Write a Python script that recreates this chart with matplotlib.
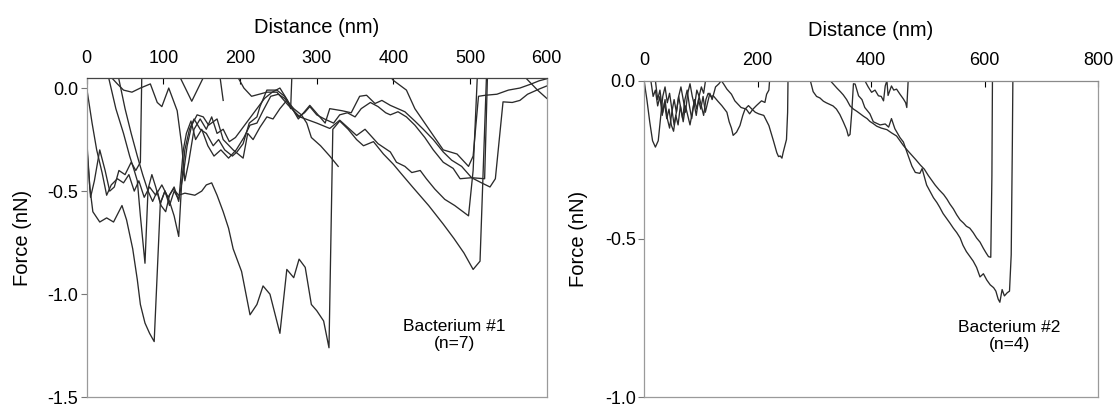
import matplotlib
matplotlib.use("Agg")
import matplotlib.pyplot as plt
import numpy as np

plt.rcParams['font.family'] = ['Liberation Sans', 'DejaVu Sans']
plt.rcParams['axes.unicode_minus'] = False

# ---- Bacterium #1 : seven retraction curves (distance nm, force nN)
b1_c1_x = [0, 4, 8, 17, 26, 35, 46, 52, 60, 66, 70, 76, 82, 88, 96, 102, 108, 114, 120, 126,
           131, 137, 144, 152, 159, 170, 178, 191, 204, 210, 217, 226, 235, 243, 252, 261,
           270, 280, 287, 293, 305, 317, 328]
b1_c1_y = [-0.25, -0.48, -0.60, -0.65, -0.63, -0.65, -0.57, -0.64, -0.78, -0.93, -1.05, -1.14,
           -1.19, -1.23, -0.56, -0.50, -0.57, -0.50, -0.54, -0.42, -0.28, -0.18, -0.13, -0.14,
           -0.18, -0.15, -0.25, -0.30, -0.34, -0.22, -0.25, -0.19, -0.14, -0.15, -0.10, -0.06,
           -0.10, -0.13, -0.17, -0.24, -0.28, -0.33, -0.38]

b1_c2_x = [28, 38, 48, 56, 62, 66, 70, 76, 80, 85, 90, 96, 102, 108, 114, 120, 124, 128, 134,
           140, 148, 156, 165, 172, 180, 190, 196, 204, 212, 222, 226, 235, 248, 258, 265, 276,
           291, 311, 317, 333, 345, 356, 365, 376, 385, 396, 415, 428, 439, 452, 465, 476, 489,
           502, 519, 523]
b1_c2_y = [0.06, -0.10, -0.22, -0.33, -0.40, -0.45, -0.62, -0.85, -0.49, -0.42, -0.48, -0.56,
           -0.50, -0.55, -0.62, -0.72, -0.45, -0.30, -0.20, -0.15, -0.20, -0.22, -0.28, -0.25,
           -0.30, -0.33, -0.31, -0.27, -0.17, -0.14, -0.09, -0.01, -0.01, -0.04, -0.08, -0.15,
           -0.084, -0.17, -0.10, -0.11, -0.12, -0.04, -0.035, -0.075, -0.06, -0.084, -0.115,
           -0.16, -0.20, -0.25, -0.31, -0.35, -0.38, -0.435, -0.44, 0.10]

b1_c3_x = [0, 7, 13, 20, 26, 32, 40, 48, 55, 62, 68, 75, 82, 90, 98, 106, 113, 120, 128, 141,
           150, 156, 163, 170, 178, 185, 191, 202, 213, 222, 230, 239, 252, 261, 270, 277, 285,
           293, 300, 309, 316, 321, 330, 341, 352, 361, 374, 387, 400, 409, 425, 446, 465, 479,
           492, 504, 513, 522, 555, 575, 588, 600]
b1_c3_y = [0.0, -0.17, -0.30, -0.41, -0.52, -0.47, -0.44, -0.46, -0.42, -0.50, -0.45, -0.53,
           -0.48, -0.52, -0.47, -0.53, -0.49, -0.52, -0.51, -0.52, -0.50, -0.47, -0.46, -0.52,
           -0.60, -0.68, -0.78, -0.89, -1.10, -1.05, -0.96, -1.00, -1.19, -0.88, -0.92, -0.83,
           -0.87, -1.05, -1.08, -1.13, -1.26, -0.20, -0.16, -0.20, -0.25, -0.28, -0.26, -0.32,
           -0.37, -0.41, -0.48, -0.57, -0.66, -0.73, -0.80, -0.88, -0.84, 0.12, 0.12, 0.04,
           -0.01, -0.05]

b1_c4_x = [30, 40, 48, 59, 70, 83, 92, 98, 107, 118, 124, 128, 133, 140, 148, 156, 163, 170,
           178, 186, 194, 202, 212, 222, 232, 242, 252, 262, 266, 268, 390, 395, 400, 417, 428,
           452, 465, 483, 498, 504, 511, 520, 535, 550, 565, 580, 590, 600]
b1_c4_y = [0.06, 0.02, -0.01, -0.02, 0.0, 0.02, -0.07, -0.09, 0.0, -0.11, -0.28, -0.45, -0.36,
           -0.20, -0.15, -0.20, -0.14, -0.22, -0.20, -0.26, -0.24, -0.20, -0.15, -0.10, -0.05,
           -0.02, 0.0, -0.06, -0.10, 0.10, 0.10, 0.06, 0.037, -0.01, -0.10, -0.23, -0.30, -0.32,
           -0.38, -0.33, -0.04, -0.035, -0.03, -0.01, 0.0, 0.02, 0.035, 0.045]

b1_c5_x = [41, 50, 58, 66, 73, 80, 86, 92, 97, 103, 108, 114, 120, 126, 130, 136, 142, 150,
           158, 166, 175, 185, 195, 205, 213, 222, 230, 240, 250, 258, 268, 276, 284, 291, 300,
           310, 322, 330, 340, 350, 358, 370, 380, 390, 396, 406, 417, 428, 441, 452, 465, 478,
           487, 502, 515, 526, 533, 543, 555, 565, 575, 590, 600]
b1_c5_y = [0.06, -0.10, -0.22, -0.33, -0.42, -0.50, -0.55, -0.50, -0.57, -0.60, -0.52, -0.48,
           -0.55, -0.30, -0.22, -0.16, -0.25, -0.20, -0.28, -0.33, -0.30, -0.34, -0.30, -0.24,
           -0.18, -0.17, -0.11, -0.04, -0.03, -0.05, -0.10, -0.14, -0.12, -0.09, -0.13, -0.15,
           -0.17, -0.13, -0.12, -0.14, -0.10, -0.07, -0.09, -0.12, -0.13, -0.115, -0.14, -0.18,
           -0.24, -0.30, -0.36, -0.39, -0.44, -0.435, -0.46, -0.48, -0.44, -0.067, -0.07,
           -0.06, -0.03, -0.005, 0.01]

b1_c6_x = [0, 5, 10, 17, 24, 30, 36, 42, 50, 58, 64, 70, 72, 118, 122, 137, 152, 156, 170,
           174, 178]
b1_c6_y = [-0.28, -0.53, -0.45, -0.30, -0.40, -0.50, -0.48, -0.40, -0.42, -0.36, -0.40, -0.36,
           0.10, 0.10, 0.05, -0.064, 0.05, 0.10, 0.10, 0.05, -0.06]

b1_c7_x = [196, 205, 215, 225, 235, 248, 263, 278, 300, 317, 330, 352, 363, 380, 396, 404, 415,
           424, 435, 443, 454, 467, 480, 498, 504, 510]
b1_c7_y = [0.06, 0.0, -0.04, -0.03, -0.02, -0.02, -0.084, -0.14, -0.17, -0.196, -0.156, -0.23,
           -0.20, -0.27, -0.31, -0.36, -0.38, -0.41, -0.40, -0.44, -0.49, -0.54, -0.57, -0.62,
           -0.40, 0.10]

# ---- Bacterium #2 : four retraction curves
b2_c1_x = [0, 5, 10, 15, 20, 25, 29, 33, 37, 41, 45, 49, 53, 57, 61, 65, 69, 73, 77, 81, 85,
           89, 93, 97, 101, 105, 110, 115, 380, 389, 395, 401, 407, 413, 418, 422, 425, 428,
           430, 436, 440, 445, 451, 457, 461, 463, 466]
b2_c1_y = [0.0, -0.06, -0.13, -0.19, -0.21, -0.19, -0.12, -0.05, -0.02, -0.07, -0.04, -0.09,
           -0.14, -0.10, -0.05, -0.02, -0.06, -0.10, -0.04, -0.01, -0.05, -0.08, -0.03, -0.05,
           -0.02, -0.04, 0.02, 0.05, 0.05, 0.0, -0.02, -0.037, -0.03, -0.048, -0.05, -0.064,
           -0.017, 0.0, -0.047, -0.017, -0.03, -0.027, -0.043, -0.058, -0.07, -0.085, 0.02]

b2_c2_x = [12, 16, 20, 24, 28, 32, 36, 40, 44, 48, 52, 56, 60, 64, 68, 72, 76, 80, 84, 88, 92,
           96, 100, 104, 108, 112, 116, 120, 126, 132, 136, 140, 146, 154, 160, 171, 180, 186,
           192, 198, 207, 213, 216, 220, 222]
b2_c2_y = [0.0, -0.05, -0.03, -0.08, -0.05, -0.11, -0.07, -0.12, -0.09, -0.14, -0.16, -0.11,
           -0.14, -0.08, -0.12, -0.06, -0.03, -0.08, -0.12, -0.07, -0.11, -0.06, -0.09, -0.05,
           -0.10, -0.07, -0.04, -0.06, -0.02, -0.01, 0.0, -0.01, -0.027, -0.043, -0.064, -0.085,
           -0.09, -0.105, -0.09, -0.079, -0.064, -0.069, -0.043, -0.03, 0.02]

b2_c3_x = [20, 24, 28, 33, 37, 41, 45, 49, 53, 57, 61, 65, 69, 73, 77, 81, 85, 89, 93, 97, 101,
           105, 109, 113, 118, 122, 130, 137, 146, 150, 154, 157, 163, 169, 174, 178, 184, 190,
           196, 202, 211, 220, 228, 234, 237, 240, 243, 245, 251, 253, 254, 290, 293, 298, 304,
           310, 316, 321, 327, 333, 339, 345, 351, 357, 360, 363, 366, 369, 372, 378, 384, 389,
           398, 404, 410, 416, 425, 431, 436, 442, 451, 457, 466, 472, 478, 486, 490, 498, 504,
           510, 516, 521, 527, 533, 539, 545, 551, 557, 562, 568, 574, 580, 586, 592, 598, 604,
           610, 616, 620, 624, 627, 631, 635, 640, 644, 647, 649, 650]
b2_c3_y = [0.0, -0.06, -0.03, -0.10, -0.06, -0.12, -0.15, -0.10, -0.06, -0.10, -0.05, -0.09,
           -0.13, -0.08, -0.11, -0.14, -0.10, -0.06, -0.09, -0.05, -0.08, -0.11, -0.06, -0.04,
           -0.05, -0.048, -0.065, -0.079, -0.10, -0.13, -0.15, -0.173, -0.163, -0.142, -0.11,
           -0.09, -0.079, -0.09, -0.10, -0.105, -0.11, -0.142, -0.19, -0.228, -0.24, -0.238,
           -0.245, -0.228, -0.186, -0.10, 0.05, 0.05, 0.0, -0.035, -0.05, -0.055, -0.065, -0.07,
           -0.075, -0.08, -0.09, -0.107, -0.13, -0.155, -0.175, -0.17, -0.10, -0.01, -0.011,
           -0.048, -0.06, -0.085, -0.105, -0.13, -0.135, -0.14, -0.137, -0.147, -0.12, -0.152,
           -0.18, -0.194, -0.24, -0.27, -0.29, -0.293, -0.278, -0.33, -0.35, -0.37, -0.385,
           -0.40, -0.42, -0.435, -0.45, -0.466, -0.48, -0.497, -0.52, -0.54, -0.555, -0.57,
           -0.59, -0.62, -0.61, -0.63, -0.645, -0.654, -0.665, -0.69, -0.70, -0.66, -0.68,
           -0.67, -0.665, -0.55, -0.20, 0.02]

b2_c4_x = [328, 334, 340, 346, 351, 357, 363, 369, 375, 381, 387, 393, 398, 404, 410, 418, 428,
           436, 445, 451, 457, 464, 472, 479, 487, 494, 501, 507, 513, 520, 528, 534, 539, 545,
           551, 557, 563, 568, 574, 580, 586, 592, 598, 603, 607, 611, 613, 614]
b2_c4_y = [0.0, -0.012, -0.024, -0.035, -0.045, -0.06, -0.08, -0.09, -0.097, -0.105, -0.113,
           -0.12, -0.129, -0.136, -0.144, -0.15, -0.155, -0.165, -0.175, -0.19, -0.205, -0.22,
           -0.236, -0.25, -0.267, -0.28, -0.30, -0.315, -0.33, -0.345, -0.36, -0.375, -0.39,
           -0.405, -0.424, -0.44, -0.45, -0.46, -0.466, -0.48, -0.497, -0.51, -0.53, -0.545,
           -0.556, -0.558, -0.30, 0.02]

b1_curves = [(b1_c1_x, b1_c1_y), (b1_c2_x, b1_c2_y), (b1_c3_x, b1_c3_y), (b1_c4_x, b1_c4_y),
             (b1_c5_x, b1_c5_y), (b1_c6_x, b1_c6_y), (b1_c7_x, b1_c7_y)]
b2_curves = [(b2_c1_x, b2_c1_y), (b2_c2_x, b2_c2_y), (b2_c3_x, b2_c3_y), (b2_c4_x, b2_c4_y)]

b1_xticks = [0, 100, 200, 300, 400, 500, 600]
b1_yticks = [0.0, -0.5, -1.0, -1.5]
b2_xticks = [0, 200, 400, 600, 800]
b2_yticks = [0.0, -0.5, -1.0]

fig = plt.figure(figsize=(11.16, 4.07), dpi=100)
ax1 = fig.add_axes([0.0777, 0.024, 0.4122, 0.785])
ax2 = fig.add_axes([0.5771, 0.024, 0.4068, 0.778])

line_col = '#2b2b2b'


def style(ax, xticks, yticks, xlim, ylim, ypad):
    ax.set_xlim(*xlim)
    ax.set_ylim(*ylim)
    ax.xaxis.tick_top()
    ax.xaxis.set_label_position('top')
    ax.set_xticks(xticks)
    ax.set_yticks(yticks)
    ax.set_yticklabels(['%.1f' % v for v in yticks])
    ax.tick_params(axis='x', direction='in', length=4, pad=8, labelsize=13, width=0.8)
    ax.tick_params(axis='y', direction='out', length=4, pad=2, labelsize=13, width=0.8,
                   color='#777777')
    ax.set_xlabel('Distance (nm)', fontsize=14.5, labelpad=12)
    ax.set_ylabel('Force (nN)', fontsize=14.5, labelpad=ypad)
    for s in ['left', 'right', 'bottom']:
        ax.spines[s].set_color('#9a9a9a')
        ax.spines[s].set_linewidth(0.9)


for cx, cy in b1_curves:
    ax1.plot(cx, cy, color=line_col, lw=0.95)
style(ax1, b1_xticks, b1_yticks, (0, 600), (-1.5, 0.05), 11)
ax1.spines['top'].set_color('#444444')
ax1.spines['top'].set_linewidth(0.9)
ax1.text(0.80, 0.195, 'Bacterium #1\n(n=7)', transform=ax1.transAxes, ha='center',
         va='center', fontsize=12.5, linespacing=1.2)

for cx, cy in b2_curves:
    ax2.plot(cx, cy, color=line_col, lw=0.95)
style(ax2, b2_xticks, b2_yticks, (0, 800), (-1.0, 0.0), 12)
ax2.spines['top'].set_color('#8a8a8a')
ax2.spines['top'].set_linewidth(0.9)
ax2.text(0.804, 0.194, 'Bacterium #2\n(n=4)', transform=ax2.transAxes, ha='center',
         va='center', fontsize=12.5, linespacing=1.2)

fig.savefig('out.png', dpi=100)
